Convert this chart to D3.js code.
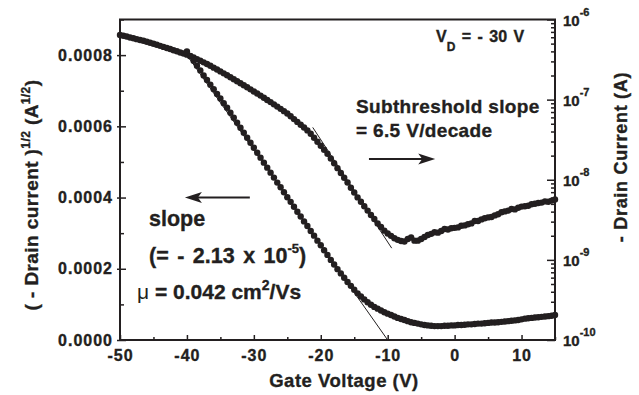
<!DOCTYPE html>
<html>
<head>
<meta charset="utf-8">
<script src="https://cdn.jsdelivr.net/npm/d3@7"></script>
<style>
body { margin: 0; background: #fff; }
svg text { font-family: "Liberation Sans", Arial, sans-serif; font-weight: bold; fill: #231f20; stroke: #231f20; stroke-width: 0.35px; }
</style>
</head>
<body>
<script>
// gate sweep, 0.5 V steps
var logStart = -50, sqrtStart = -40, vStep = 0.5;

// - drain current on the right (log) axis, as log10(A), -50 V .. 15 V
var logId = [
  -6.193, -6.203, -6.213, -6.224, -6.234, -6.245, -6.255, -6.266, -6.277, -6.290,
  -6.303, -6.316, -6.329, -6.342, -6.356, -6.369, -6.383, -6.397, -6.411, -6.425,
  -6.439, -6.456, -6.474, -6.494, -6.514, -6.535, -6.556, -6.578, -6.601, -6.624,
  -6.648, -6.672, -6.696, -6.720, -6.745, -6.770, -6.795, -6.820, -6.846, -6.872,
  -6.898, -6.924, -6.950, -6.977, -7.004, -7.031, -7.059, -7.087, -7.115, -7.144,
  -7.173, -7.208, -7.243, -7.278, -7.313, -7.348, -7.384, -7.425, -7.475, -7.525,
  -7.575, -7.625, -7.675, -7.735, -7.795, -7.855, -7.915, -7.975, -8.035, -8.100,
  -8.160, -8.220, -8.275, -8.330, -8.385, -8.440, -8.490, -8.545, -8.590, -8.635,
  -8.670, -8.700, -8.730, -8.750, -8.765, -8.770, -8.740, -8.720, -8.760, -8.760,
  -8.740, -8.715, -8.690, -8.675, -8.655, -8.660, -8.640, -8.615, -8.620, -8.605,
  -8.600, -8.595, -8.575, -8.570, -8.555, -8.545, -8.515, -8.515, -8.495, -8.480,
  -8.470, -8.465, -8.445, -8.430, -8.405, -8.395, -8.385, -8.365, -8.370, -8.350,
  -8.335, -8.330, -8.325, -8.305, -8.300, -8.290, -8.285, -8.270, -8.275, -8.260, -8.245
];

// ( - drain current )^1/2 on the left axis, in 1e-4 A^1/2, -40 V .. 15 V
var sqrtId = [
  8.10, 7.97, 7.84, 7.70, 7.57, 7.43, 7.30, 7.17, 7.04, 6.91,
  6.78, 6.65, 6.52, 6.38, 6.24, 6.10, 5.96, 5.82, 5.68, 5.54,
  5.40, 5.26, 5.12, 4.98, 4.84, 4.70, 4.56, 4.42, 4.29, 4.15,
  4.01, 3.88, 3.74, 3.60, 3.47, 3.33, 3.20, 3.06, 2.93, 2.79,
  2.66, 2.52, 2.39, 2.25, 2.12, 1.99, 1.87, 1.75, 1.63, 1.52,
  1.41, 1.31, 1.22, 1.14, 1.06, 0.99, 0.93, 0.88, 0.83, 0.78,
  0.74, 0.70, 0.66, 0.62, 0.59, 0.56, 0.53, 0.50, 0.48, 0.46,
  0.44, 0.42, 0.41, 0.40, 0.39, 0.39, 0.39, 0.40, 0.40, 0.41,
  0.41, 0.42, 0.42, 0.43, 0.44, 0.44, 0.45, 0.46, 0.46, 0.47,
  0.48, 0.49, 0.49, 0.50, 0.51, 0.52, 0.53, 0.54, 0.55, 0.56,
  0.58, 0.60, 0.61, 0.62, 0.63, 0.64, 0.65, 0.66, 0.67, 0.68, 0.70
];

// fitted lines
var fitSqrtV = [-40, -10], fitSqrtY = [0.0008, 0];
var fitLogV = [-21.2, -9.4], fitLogI = [4.5e-8, 1.4e-9];

// arrows (gate V, left-axis value)
var arrowLeftV = [-30.6, -40.3], arrowLeftY = 0.0004;
var arrowRightV = [-12.8, -2.9], arrowRightY = 0.000508;

var xTicks = [-50, -40, -30, -20, -10, 0, 10];
var xMinor = [-45, -35, -25, -15, -5, 5, 15];
var yLeftTicks = [0, 0.0002, 0.0004, 0.0006, 0.0008];
var yLeftMinor = [0.0001, 0.0003, 0.0005, 0.0007, 0.0009];
var yRightExp = [-10, -9, -8, -7, -6];

var svg = d3.select('body').append('svg')
    .attr('width', 639)
    .attr('height', 395);

var x = d3.scaleLinear().domain([-50, 15]).range([120, 555]);
var yL = d3.scaleLinear().domain([0, 0.0009]).range([340, 19.5]);
var yR = d3.scaleLog().domain([1e-10, 1e-6]).range([340, 19.5]);

var ink = '#231f20';

// bottom axis
var gx = svg.append('g').attr('transform', 'translate(0,340)')
    .call(d3.axisBottom(x).tickValues(xTicks).tickSizeInner(-5).tickSizeOuter(0)
        .tickPadding(10).tickFormat(function(d) { return String(d); }));
svg.append('g').attr('transform', 'translate(0,340)')
    .call(d3.axisBottom(x).tickValues(xMinor).tickSizeInner(-3).tickSizeOuter(0).tickFormat(''));

// left axis
var gl = svg.append('g').attr('transform', 'translate(120,0)')
    .call(d3.axisLeft(yL).tickValues(yLeftTicks).tickSizeInner(-6).tickSizeOuter(0)
        .tickPadding(7).tickFormat(d3.format('.4f')));
gl.selectAll('.tick line').attr('x1', -3);
svg.append('g').attr('transform', 'translate(120,0)')
    .call(d3.axisLeft(yL).tickValues(yLeftMinor).tickSizeInner(-4).tickSizeOuter(0).tickFormat(''));

// right axis (log)
var rightMinor = [];
yRightExp.slice(0, -1).forEach(function(e) {
  for (var m = 2; m <= 9; m++) rightMinor.push(m * Math.pow(10, e));
});
var gr = svg.append('g').attr('transform', 'translate(555,0)')
    .call(d3.axisRight(yR).tickValues(yRightExp.map(function(e) { return Math.pow(10, e); }))
        .tickSizeInner(-8).tickSizeOuter(0).tickFormat(''));
svg.append('g').attr('transform', 'translate(555,0)')
    .call(d3.axisRight(yR).tickValues(rightMinor).tickSizeInner(-4).tickSizeOuter(0).tickFormat(''));

svg.selectAll('.domain').remove();
svg.selectAll('.tick line').attr('stroke', ink).attr('stroke-width', 1.5);
svg.selectAll('.tick text')
    .attr('font-family', '"Liberation Sans", Arial, sans-serif')
    .attr('font-weight', 'bold')
    .attr('font-size', 16)
    .attr('letter-spacing', 1)
    .attr('fill', ink);

// right tick labels 10^n
var rl = svg.append('g').selectAll('text').data(yRightExp).enter().append('text')
    .attr('x', 563)
    .attr('y', function(e) { return yR(Math.pow(10, e)) + 6; })
    .attr('font-size', 15);
rl.append('tspan').text('10');
rl.append('tspan').attr('font-size', 11).attr('dy', -10)
    .text(function(e) { return String(e); });

// frame
svg.append('rect')
    .attr('x', 120).attr('y', 19.5)
    .attr('width', 435).attr('height', 320.5)
    .attr('fill', 'none').attr('stroke', ink).attr('stroke-width', 2);

// data
var logPts = logId.map(function(v, i) { return { v: logStart + i * vStep, id: Math.pow(10, v) }; });
var sqrtPts = sqrtId.map(function(v, i) { return { v: sqrtStart + i * vStep, s: v * 1e-4 }; });

svg.append('g').selectAll('circle').data(logPts).enter().append('circle')
    .attr('cx', function(d) { return x(d.v); })
    .attr('cy', function(d) { return yR(d.id); })
    .attr('r', 3.2)
    .attr('fill', ink);

svg.append('g').selectAll('circle').data(sqrtPts).enter().append('circle')
    .attr('cx', function(d) { return x(d.v); })
    .attr('cy', function(d) { return yL(d.s); })
    .attr('r', 3.2)
    .attr('fill', ink);

// fitted lines
svg.append('line')
    .attr('x1', x(fitSqrtV[0])).attr('y1', yL(fitSqrtY[0]))
    .attr('x2', x(fitSqrtV[1])).attr('y2', yL(fitSqrtY[1]))
    .attr('stroke', ink).attr('stroke-width', 1);
svg.append('line')
    .attr('x1', x(fitLogV[0])).attr('y1', yR(fitLogI[0]))
    .attr('x2', x(fitLogV[1])).attr('y2', yR(fitLogI[1]))
    .attr('stroke', ink).attr('stroke-width', 1);

// arrows
function arrow(vs, yv) {
  var x0 = x(vs[0]), x1 = x(vs[1]), yy = yL(yv);
  var dir = x1 > x0 ? 1 : -1;
  svg.append('line')
      .attr('x1', x0).attr('y1', yy)
      .attr('x2', x1 - dir * 10).attr('y2', yy)
      .attr('stroke', ink).attr('stroke-width', 2);
  svg.append('path')
      .attr('d', 'M' + x1 + ',' + yy + 'L' + (x1 - dir * 17) + ',' + (yy - 5.5) +
                 'L' + (x1 - dir * 13) + ',' + yy + 'L' + (x1 - dir * 17) + ',' + (yy + 5.5) + 'Z')
      .attr('fill', ink);
}
arrow(arrowLeftV, arrowLeftY);
arrow(arrowRightV, arrowRightY);

// axis titles
svg.append('text')
    .attr('x', 344).attr('y', 387)
    .attr('text-anchor', 'middle')
    .attr('font-size', 18.5).attr('letter-spacing', 0.5)
    .text('Gate Voltage (V)');

var lt = svg.append('text')
    .attr('transform', 'translate(38,195) rotate(-90)')
    .attr('text-anchor', 'middle')
    .attr('font-size', 19).attr('letter-spacing', 0.4);
lt.append('tspan').text('( - Drain current )');
lt.append('tspan').attr('font-size', 12).attr('dy', -8).text('1/2');
lt.append('tspan').attr('dy', 8).text(' (A');
lt.append('tspan').attr('font-size', 12).attr('dy', -8).text('1/2');
lt.append('tspan').attr('dy', 8).text(')');

svg.append('text')
    .attr('transform', 'translate(627,157) rotate(-90)')
    .attr('text-anchor', 'middle')
    .attr('font-size', 18).attr('letter-spacing', 0.7)
    .text('- Drain Current (A)');

// annotations
var vd = svg.append('text').attr('x', 436).attr('y', 42).attr('font-size', 16).attr('word-spacing', 2);
vd.append('tspan').text('V');
vd.append('tspan').attr('font-size', 12).attr('dy', 9).text('D');
vd.append('tspan').attr('dy', -9).text(' = - 30 V');

svg.append('text').attr('x', 356).attr('y', 113).attr('font-size', 19).attr('letter-spacing', 0.35)
    .text('Subthreshold slope');
svg.append('text').attr('x', 356).attr('y', 137).attr('font-size', 19).attr('letter-spacing', 0.35)
    .text('= 6.5 V/decade');

svg.append('text').attr('x', 149).attr('y', 226).attr('font-size', 21.5).text('slope');

var sl = svg.append('text').attr('x', 149).attr('y', 263).attr('font-size', 21.5).attr('word-spacing', 2.5);
sl.append('tspan').text('(= - 2.13 x 10');
sl.append('tspan').attr('font-size', 13).attr('dy', -10).text('-5');
sl.append('tspan').attr('dy', 10).text(')');

var mu = svg.append('text').attr('x', 137).attr('y', 299).attr('font-size', 21);
mu.append('tspan').attr('font-weight', 'normal').attr('stroke-width', 0).text('\u03bc');
mu.append('tspan').text(' = 0.042 cm');
mu.append('tspan').attr('font-size', 14).attr('dy', -9).text('2');
mu.append('tspan').attr('dy', 9).text('/Vs');
</script>
</body>
</html>
